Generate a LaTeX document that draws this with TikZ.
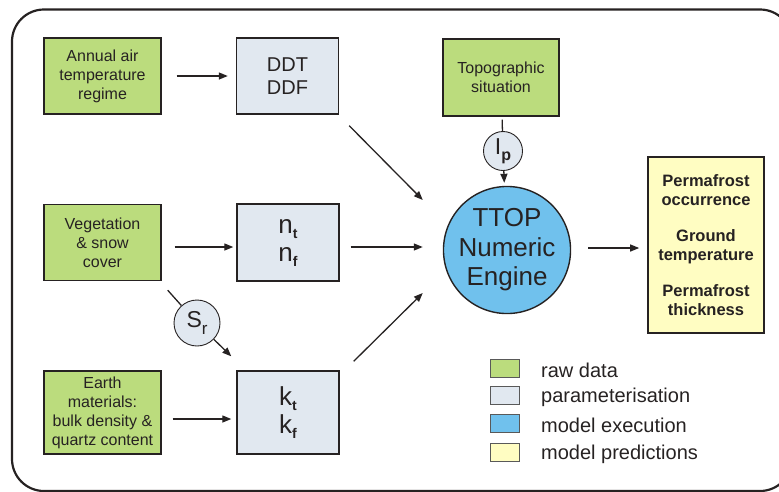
\documentclass[tikz,border=0pt]{standalone}
\usepackage{fontspec}
\setmainfont{Liberation Sans}
\usetikzlibrary{arrows.meta}
\definecolor{rawgreen}{RGB}{187,220,125}
\definecolor{parblue}{RGB}{225,232,240}
\definecolor{engblue}{RGB}{112,193,237}
\definecolor{predyellow}{RGB}{255,253,194}
\definecolor{ink}{RGB}{38,34,34}
\newcommand{\lowsub}[1]{\raisebox{-5pt}{\fontsize{14}{14}\selectfont\bfseries #1}}
\begin{document}
\begin{tikzpicture}[x=1pt,y=-1pt,
  every node/.style={inner sep=0pt, align=center, text=ink},
  rawbox/.style={draw=ink, line width=1.4pt, fill=rawgreen, minimum width=117pt, minimum height=76pt, font=\fontsize{16}{19}\selectfont},
  parbox/.style={draw=ink, line width=1.4pt, fill=parblue, minimum width=102pt, minimum height=76pt, font=\fontsize{20}{23}\selectfont},
  symbox/.style={parbox, font=\fontsize{26}{28}\selectfont},
  engine/.style={circle, draw=ink, line width=1.4pt, fill=engblue, minimum size=124pt, font=\fontsize{26}{29.5}\selectfont},
  factor/.style={circle, draw=ink, line width=0.9pt, fill=parblue, font=\fontsize{23}{23}\selectfont},
  predbox/.style={draw=ink, line width=1.6pt, fill=predyellow, minimum width=116pt, minimum height=176pt, font=\fontsize{16.5}{19}\selectfont\bfseries},
  keybox/.style={draw=black!65, line width=0.8pt, minimum width=29pt, minimum height=18pt},
  keytext/.style={anchor=west, font=\fontsize{20}{20}\selectfont},
  link/.style={draw=ink, line width=1.3pt},
  flow/.style={link, -{Triangle[length=9pt,width=7pt]}},
]
\useasboundingbox (0,0) rectangle (779,491);

% outer rounded frame, running past the right and bottom edges
\begin{scope}
  \clip (0,0) rectangle (779,491);
  \draw[ink, line width=2.2pt, rounded corners=32pt] (12,9.5) rectangle (792,491);
\end{scope}

% raw data
\node[rawbox] (air) at (102.5,76) {Annual air\\temperature\\regime};
\node[rawbox] (veg) at (102.5,242.5) {Vegetation\\\& snow\\cover};
\node[rawbox, minimum height=83pt] (earth) at (102.5,412.5) {Earth\\materials:\\bulk density \&\\quartz content};
\node[rawbox, minimum width=116pt, minimum height=77pt] (topo) at (501,77.5) {Topographic\\situation};

% parameterisation
\node[parbox] (ddt) at (287.5,76) {DDT\\DDF};
\node[symbox, minimum height=77pt] (nbox) at (288,242.5) {n\lowsub{t}\\n\lowsub{f}};
\node[symbox, minimum height=83pt] (kbox) at (288,412.5) {k\lowsub{t}\\k\lowsub{f}};
\node[factor, minimum size=39pt] (ip) at (503,151) {I\raisebox{-6pt}{\fontsize{16}{16}\selectfont\bfseries p}};
\node[factor, minimum size=46pt] (sr) at (197,323) {S\raisebox{-7pt}{\fontsize{17}{17}\selectfont r}};

% model execution and predictions
\node[engine] (ttop) at (507,250) {TTOP\\Numeric\\Engine};
\node[predbox] (pred) at (706,245) {Permafrost\\occurrence\\[17pt]Ground\\temperature\\[17pt]Permafrost\\thickness};

% connectors
\draw[flow, shorten <=15pt, shorten >=8pt] (air) -- (ddt);
\draw[flow] ([xshift=13pt,yshift=-4.5pt]veg.east) -- ([xshift=-3pt,yshift=-4.5pt]nbox.west);
\draw[flow] ([xshift=11pt,yshift=-6.5pt]earth.east) -- ([xshift=-5pt,yshift=-6.5pt]kbox.west);
\draw[flow] ([xshift=10pt,yshift=-11pt]ddt.south east) -- ([xshift=-20pt,yshift=50pt]ttop.west);
\draw[flow] ([xshift=11pt,yshift=-4.5pt]nbox.east) -- ([xshift=-20pt,yshift=3pt]ttop.west);
\draw[flow] ([xshift=14pt,yshift=9pt]kbox.north east) -- ([xshift=-20pt,yshift=-43pt]ttop.west);
\draw[link, shorten <=3pt] (topo) -- (ip);
\draw[flow, shorten >=3pt] (ip) -- (ttop);
\draw[link] ([xshift=6pt,yshift=-9pt]veg.south east) -- (sr);
\draw[flow] (sr) -- ([xshift=-5pt,yshift=14pt]kbox.north west);
\draw[flow] ([xshift=17pt,yshift=2pt]ttop.east) -- ([xshift=-8pt,yshift=-3pt]pred.west);

% legend
\node[keybox, fill=rawgreen] (k1) at (504.5,368) {};
\node[keybox, fill=parblue] (k2) at (504.5,395) {};
\node[keybox, fill=engblue] (k3) at (504.5,423.5) {};
\node[keybox, fill=predyellow] (k4) at (504.5,452) {};
\node[keytext] (l1) at (541,370) {raw data};
\node[keytext] (l2) at (541,397) {parameterisation};
\node[keytext] (l3) at (541,425.5) {model execution};
\node[keytext] (l4) at (541,454) {model predictions};
\end{tikzpicture}
\end{document}
